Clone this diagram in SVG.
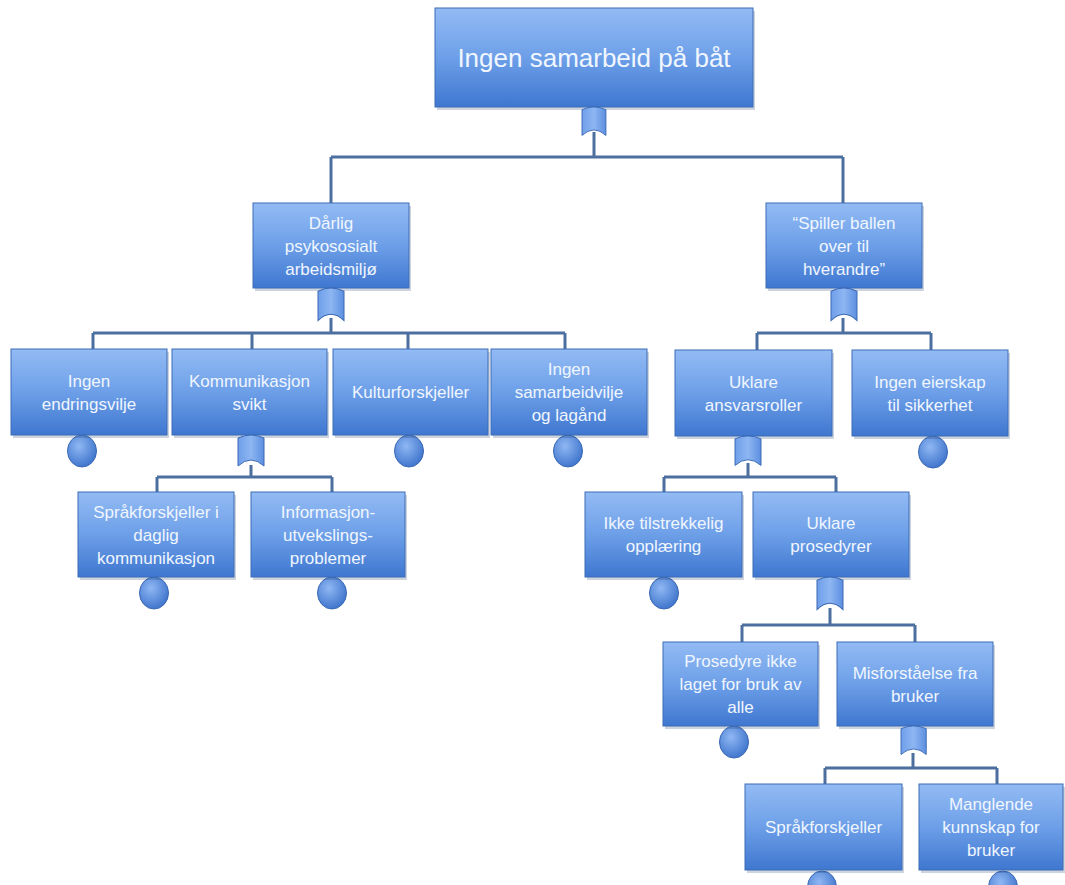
<svg xmlns="http://www.w3.org/2000/svg" width="1065" height="885" viewBox="0 0 1065 885">
<defs>
<linearGradient id="boxg" x1="0" y1="0" x2="0" y2="1">
<stop offset="0" stop-color="#93bbf4"/>
<stop offset="0.5" stop-color="#6d9fe8"/>
<stop offset="1" stop-color="#3f77d0"/>
</linearGradient>
<radialGradient id="circg" cx="0.4" cy="0.35" r="0.7">
<stop offset="0" stop-color="#8fb7f3"/>
<stop offset="1" stop-color="#3c72cb"/>
</radialGradient>
<linearGradient id="gateg" x1="0" y1="0" x2="1" y2="0">
<stop offset="0" stop-color="#6f9ee9"/>
<stop offset="0.5" stop-color="#8db6f2"/>
<stop offset="1" stop-color="#5d8fe0"/>
</linearGradient>
<path id="gate" d="M0,4 Q13,-2 26,4 L26,32 Q13,20 0,32 Z"/>
<style>
.box{fill:url(#boxg);stroke:#3d6cb6;stroke-width:1}
.shadow{fill:#1c3a6a;opacity:0.22}
.t{font-family:"Liberation Sans",Arial,sans-serif;font-size:17px;fill:#f0f6fe;text-anchor:middle}
.title{font-size:26px}
.circ{fill:url(#circg);stroke:#3a68b3;stroke-width:1}
.g{fill:url(#gateg);stroke:#3a68b3;stroke-width:1}
.conn{fill:none;stroke:#4d6f9f;stroke-width:3}
</style>
</defs>
<rect width="1065" height="885" fill="#ffffff"/>

<g id="connectors" class="conn">
<path d="M594,132 V157 M331,157 H843 M331,157 V203 M843,157 V203"/>
<path d="M331,318 V333 M93,333 H565 M93,333 V349 M252,333 V349 M408,333 V349 M565,333 V349"/>
<path d="M843,318 V333 M757,333 H931 M757,333 V350 M931,333 V350"/>
<path d="M251,465 V477 M157,477 H332 M157,477 V492 M332,477 V492"/>
<path d="M748,463 V477 M664,477 H836 M664,477 V492 M836,477 V492"/>
<path d="M830,608 V625 M742,625 H915 M742,625 V642 M915,625 V642"/>
<path d="M913,753 V768 M825,768 H997 M825,768 V784 M997,768 V784"/>
</g>

<g id="n-top">
<rect class="shadow" x="437" y="11" width="318" height="99"/>
<rect class="box" x="435" y="8" width="318" height="99"/>
<text class="t title" x="594" y="67">Ingen samarbeid på båt</text>
<use href="#gate" class="g" transform="translate(582,106) scale(0.92,0.92)"/>
</g>

<g id="n-darlig">
<rect class="shadow" x="255" y="206" width="156" height="85"/>
<rect class="box" x="253" y="203" width="156" height="85"/>
<text class="t" x="331" y="228.5">Dårlig</text>
<text class="t" x="331" y="251.5">psykososialt</text>
<text class="t" x="331" y="274.5">arbeidsmiljø</text>
<use href="#gate" class="g" transform="translate(318,287) scale(1,1.05)"/>
</g>

<g id="n-spiller">
<rect class="shadow" x="768" y="206" width="156" height="85"/>
<rect class="box" x="766" y="203" width="156" height="85"/>
<text class="t" x="844" y="228.5">“Spiller ballen</text>
<text class="t" x="844" y="251.5">over til</text>
<text class="t" x="844" y="274.5">hverandre”</text>
<use href="#gate" class="g" transform="translate(831,287) scale(1,1.05)"/>
</g>

<g id="n-endring">
<ellipse class="circ" cx="82" cy="451" rx="14.5" ry="16"/>
<rect class="shadow" x="13" y="352" width="156" height="86"/>
<rect class="box" x="11" y="349" width="156" height="86"/>
<text class="t" x="89" y="386.5">Ingen</text>
<text class="t" x="89" y="409.5">endringsvilje</text>
</g>

<g id="n-kommunikasjon">
<rect class="shadow" x="174" y="352" width="155" height="86"/>
<rect class="box" x="172" y="349" width="155" height="86"/>
<text class="t" x="249.5" y="386.5">Kommunikasjon</text>
<text class="t" x="249.5" y="409.5">svikt</text>
<use href="#gate" class="g" transform="translate(238,434) scale(1,1)"/>
</g>

<g id="n-kultur">
<ellipse class="circ" cx="409" cy="451" rx="14.5" ry="16"/>
<rect class="shadow" x="335" y="352" width="155" height="86"/>
<rect class="box" x="333" y="349" width="155" height="86"/>
<text class="t" x="410.5" y="398">Kulturforskjeller</text>
</g>

<g id="n-samarbeidvilje">
<ellipse class="circ" cx="568" cy="451" rx="14.5" ry="16"/>
<rect class="shadow" x="493" y="352" width="156" height="86"/>
<rect class="box" x="491" y="349" width="156" height="86"/>
<text class="t" x="569" y="375">Ingen</text>
<text class="t" x="569" y="398">samarbeidvilje</text>
<text class="t" x="569" y="421">og lagånd</text>
</g>

<g id="n-ansvar">
<rect class="shadow" x="677" y="353" width="157" height="86"/>
<rect class="box" x="675" y="350" width="157" height="86"/>
<text class="t" x="753.5" y="387.5">Uklare</text>
<text class="t" x="753.5" y="410.5">ansvarsroller</text>
<use href="#gate" class="g" transform="translate(735,435) scale(1,0.95)"/>
</g>

<g id="n-eierskap">
<ellipse class="circ" cx="933" cy="452" rx="14.5" ry="16"/>
<rect class="shadow" x="854" y="353" width="156" height="86"/>
<rect class="box" x="852" y="350" width="156" height="86"/>
<text class="t" x="930" y="387.5">Ingen eierskap</text>
<text class="t" x="930" y="410.5">til sikkerhet</text>
</g>

<g id="n-sprak-daglig">
<ellipse class="circ" cx="154" cy="593" rx="14.5" ry="16"/>
<rect class="shadow" x="80" y="495" width="156" height="85"/>
<rect class="box" x="78" y="492" width="156" height="85"/>
<text class="t" x="156" y="517.5">Språkforskjeller i</text>
<text class="t" x="156" y="540.5">daglig</text>
<text class="t" x="156" y="563.5">kommunikasjon</text>
</g>

<g id="n-informasjon">
<ellipse class="circ" cx="332" cy="593" rx="14.5" ry="16"/>
<rect class="shadow" x="253" y="495" width="154" height="85"/>
<rect class="box" x="251" y="492" width="154" height="85"/>
<text class="t" x="328" y="517.5">Informasjon-</text>
<text class="t" x="328" y="540.5">utvekslings-</text>
<text class="t" x="328" y="563.5">problemer</text>
</g>

<g id="n-opplaering">
<ellipse class="circ" cx="664" cy="593" rx="14.5" ry="16"/>
<rect class="shadow" x="587" y="495" width="157" height="85"/>
<rect class="box" x="585" y="492" width="157" height="85"/>
<text class="t" x="663.5" y="529">Ikke tilstrekkelig</text>
<text class="t" x="663.5" y="552">opplæring</text>
</g>

<g id="n-prosedyrer">
<rect class="shadow" x="755" y="495" width="156" height="85"/>
<rect class="box" x="753" y="492" width="156" height="85"/>
<text class="t" x="831" y="529">Uklare</text>
<text class="t" x="831" y="552">prosedyrer</text>
<use href="#gate" class="g" transform="translate(817,576) scale(1,1.05)"/>
</g>

<g id="n-prosedyre-alle">
<ellipse class="circ" cx="734" cy="742" rx="14.5" ry="16"/>
<rect class="shadow" x="665" y="645" width="155" height="84"/>
<rect class="box" x="663" y="642" width="155" height="84"/>
<text class="t" x="740.5" y="667">Prosedyre ikke</text>
<text class="t" x="740.5" y="690">laget for bruk av</text>
<text class="t" x="740.5" y="713">alle</text>
</g>

<g id="n-misforstaelse">
<rect class="shadow" x="839" y="645" width="156" height="84"/>
<rect class="box" x="837" y="642" width="156" height="84"/>
<text class="t" x="915" y="678.5">Misforståelse fra</text>
<text class="t" x="915" y="701.5">bruker</text>
<use href="#gate" class="g" transform="translate(901,725) scale(0.97,0.92)"/>
</g>

<g id="n-sprak">
<ellipse class="circ" cx="822" cy="887" rx="14.5" ry="16"/>
<rect class="shadow" x="747" y="787" width="157" height="86"/>
<rect class="box" x="745" y="784" width="157" height="86"/>
<text class="t" x="823.5" y="833">Språkforskjeller</text>
</g>

<g id="n-manglende">
<ellipse class="circ" cx="1003" cy="887" rx="14.5" ry="16"/>
<rect class="shadow" x="921" y="787" width="144" height="86"/>
<rect class="box" x="919" y="784" width="144" height="86"/>
<text class="t" x="991" y="810">Manglende</text>
<text class="t" x="991" y="833">kunnskap for</text>
<text class="t" x="991" y="856">bruker</text>
</g>
</svg>
